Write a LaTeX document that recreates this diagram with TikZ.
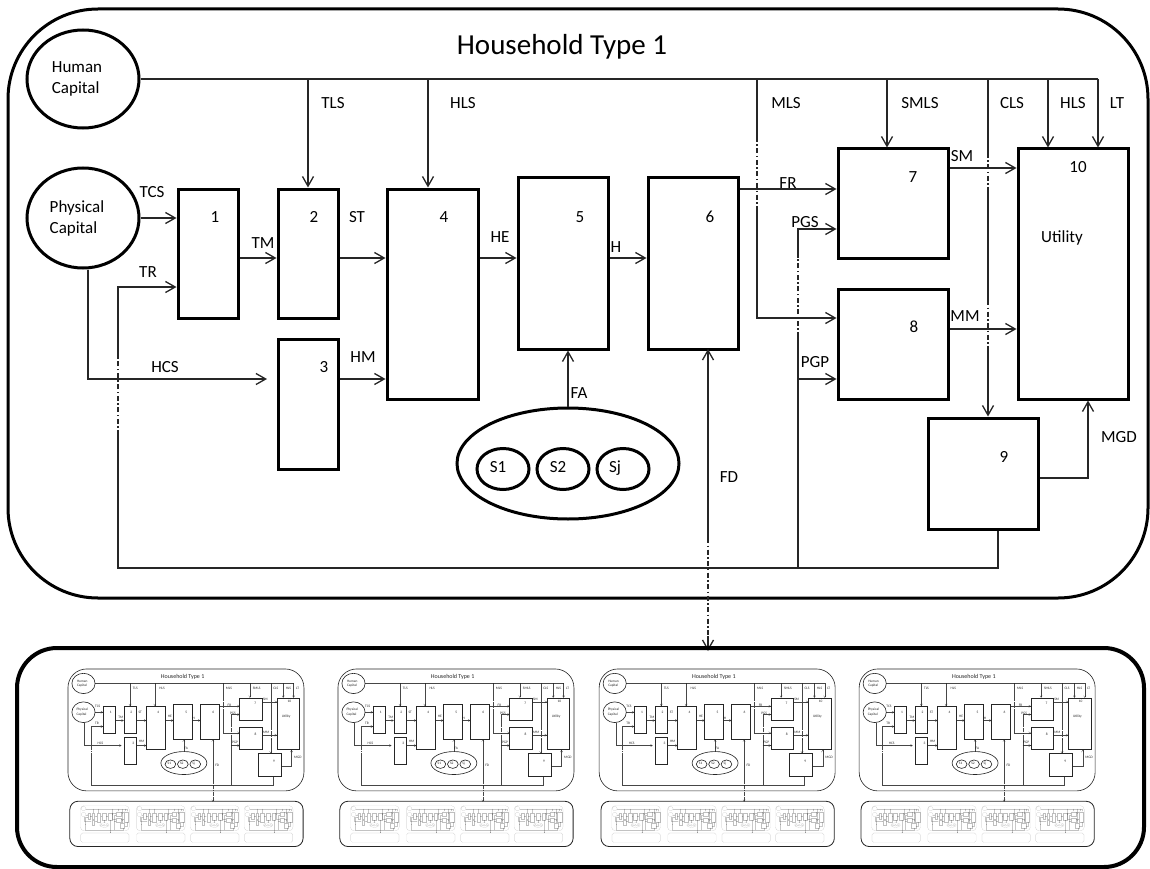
\documentclass[tikz,border=0pt]{standalone}
\usepackage{fontspec}
\setmainfont{Carlito}
\usetikzlibrary{arrows.meta,shapes.geometric}

\newcommand\setlevel[1]{%
  \def\sc{#1}%
  \pgfmathsetlengthmacro\lwB{3pt*#1}%
  \pgfmathsetlengthmacro\lwC{1.3pt*#1}%
  \pgfmathsetlengthmacro\lwP{4pt*#1}%
  \pgfmathsetlengthmacro\rHH{90pt*#1}%
  \pgfmathsetlengthmacro\rBP{40pt*#1}%
  \pgfmathsetlengthmacro\dA{5pt*#1}%
  \pgfmathsetlengthmacro\dB{2.5pt*#1}%
  \pgfmathsetlengthmacro\dC{1.5pt*#1}%
}

\tikzset{
  hbox/.style={draw, rectangle, line width=\lwB, inner sep=0pt, scale=\sc},
  ellnode/.style={draw, ellipse, line width=\lwB, inner sep=0pt, scale=\sc},
  lab/.style={inner sep=0pt, font=\fontsize{17}{20}\selectfont, text height=10.9pt, text depth=0pt, scale=\sc},
  txt/.style={inner sep=0pt, align=left, font=\fontsize{17}{21}\selectfont, scale=\sc},
  ttl/.style={font=\fontsize{29}{34}\selectfont, anchor=base, inner sep=0pt, scale=\sc},
  con/.style={draw=black!85, line width=\lwC},
  arr/.style={con, -{Straight Barb[length=0pt 7.5, width=0pt 8.5]}},
  rarr/.style={con, {Straight Barb[length=0pt 7.5, width=0pt 8.5]}-},
  hid/.style={con, dash pattern=on \dA off \dB on \dC off \dB},
  frameHH/.style={line width=\lwB, rounded corners=\rHH},
  framePN/.style={line width=\lwP, rounded corners=\rBP},
}

% shapes and connectors of one household
\newcommand\hh{%
  \draw[frameHH] (8,9) rectangle (1148,598);
  \node[ellnode, minimum width=112, minimum height=98] (hc) at (83,79) {};
  \node[ellnode, minimum width=112, minimum height=100] (pc) at (83,218) {};
  \node[hbox, minimum width=60, minimum height=129] (b1) at (208,253.5) {};
  \node[hbox, minimum width=60, minimum height=129] (b2) at (308,253.5) {};
  \node[hbox, minimum width=60, minimum height=130] (b3) at (308,404) {};
  \node[hbox, minimum width=91, minimum height=210] (b4) at (432.5,294) {};
  \node[hbox, minimum width=90, minimum height=171] (b5) at (563,263.5) {};
  \node[hbox, minimum width=90, minimum height=171] (b6) at (693,263.5) {};
  \node[hbox, minimum width=110, minimum height=109] (b7) at (893,203.5) {};
  \node[hbox, minimum width=110, minimum height=110] (b8) at (893,344) {};
  \node[hbox, minimum width=110, minimum height=111] (b9) at (983,473.5) {};
  \node[hbox, minimum width=110, minimum height=250] (b10) at (1073,274) {};
  \node[ellnode, minimum width=222, minimum height=111] (big) at (568,463.5) {};
  \node[ellnode, minimum width=52, minimum height=41] (s1) at (503,469) {};
  \node[ellnode, minimum width=52, minimum height=41] (s2) at (563,469) {};
  \node[ellnode, minimum width=52, minimum height=41] (sj) at (623,469) {};
  % bus from human capital
  \coordinate (busE) at (1098,79);
  \draw[con] (hc.east) -- (busE);
  \coordinate (tls) at (308,79);
  \coordinate (hls) at (428,79);
  \coordinate (mls) at (757,79);
  \coordinate (smls) at (887,79);
  \coordinate (cls) at (988,79);
  \coordinate (hlsb) at (1048,79);
  \draw[arr] (tls) -- (tls |- b2.north);
  \draw[arr] (hls) -- (hls |- b4.north);
  \draw[arr] (smls) -- (smls |- b7.north);
  \draw[arr] (hlsb) -- (hlsb |- b10.north);
  \draw[arr] (busE) -- (busE |- b10.north);
  % MLS
  \coordinate (m8) at (757,318);
  \draw[con] (mls) -- (757,137);
  \draw[hid] (757,137) -- (757,210);
  \draw[arr] (757,210) -- (m8) -- (m8 -| b8.west);
  % CLS
  \draw[con] (cls) -- (988,153);
  \draw[hid] (988,153) -- (988,187);
  \draw[con] (988,187) -- (988,300);
  \draw[hid] (988,300) -- (988,348);
  \draw[arr] (988,348) -- (cls |- b9.north);
  % physical capital flows
  \draw[arr] (pc.east) -- (pc.east -| b1.west);
  \coordinate (hcsC) at (88,379);
  \coordinate (hcsE) at (267,379);
  \draw[arr] (hcsC |- pc.south) -- (hcsC) -- (hcsE);
  % main chain
  \coordinate (ry) at (0,258);
  \coordinate (hmy) at (0,379);
  \draw[arr] (b1.east |- ry) -- (b2.west |- ry);
  \draw[arr] (b2.east |- ry) -- (b4.west |- ry);
  \draw[arr] (b3.east |- hmy) -- (b4.west |- hmy);
  \draw[arr] (b4.east |- ry) -- (b5.west |- ry);
  \draw[arr] (b5.east |- ry) -- (b6.west |- ry);
  \draw[arr] (big.north) -- (big.north |- b5.south);
  \coordinate (fry) at (0,189);
  \draw[arr] (b6.east |- fry) -- (b7.west |- fry);
  \coordinate (smy) at (0,168);
  \coordinate (mmy) at (0,329);
  \draw[arr] (b7.east |- smy) -- (b10.west |- smy);
  \draw[arr] (b8.east |- mmy) -- (b10.west |- mmy);
  \coordinate (mgd) at (1088,478);
  \draw[arr] (b9.east |- mgd) -- (mgd) -- (mgd |- b10.south);
  % feedback loop
  \coordinate (fb9) at (998,568);
  \coordinate (fbL) at (118,568);
  \coordinate (trC) at (118,287);
  \draw[con] (fb9 |- b9.south) -- (fb9) -- (fbL) -- (118,435);
  \draw[hid] (118,435) -- (118,358);
  \draw[arr] (118,358) -- (trC) -- (trC -| b1.west);
  \coordinate (pgsC) at (798,229);
  \coordinate (pgpC) at (798,379);
  \draw[con] (798,568) -- (798,337);
  \draw[hid] (798,337) -- (798,258);
  \draw[arr] (798,258) -- (pgsC) -- (pgsC -| b7.west);
  \draw[arr] (pgpC) -- (pgpC -| b8.west);
  % FD
  \coordinate (fdx) at (708,349);
  \coordinate (fdE) at (708,651);
  \draw[rarr] (fdx) -- (708,538);
  \draw[hid] (708,538) -- (708,636);
  \draw[arr] (708,636) -- (fdE);
}

% texts of one household
\newcommand\hhtext{%
  \node[ttl] (title) at (562,55) {Household Type 1};
  \node[txt] (hct) at (77,79) {Human\\Capital};
  \node[txt] (pct) at (77,218) {Physical\\Capital};
  \node[lab] (n1) at (215,217) {1};
  \node[lab] (n2) at (314,217) {2};
  \node[lab] (n3) at (324,367) {3};
  \node[lab] (n4) at (444,217) {4};
  \node[lab] (n5) at (580,217) {5};
  \node[lab] (n6) at (710,217) {6};
  \node[lab] (n7) at (913,177) {7};
  \node[lab] (n8) at (914,327) {8};
  \node[lab] (n9) at (1004,457) {9};
  \node[lab] (n10) at (1078,167) {10};
  \node[lab] (nu) at (1062,237) {Utility};
  \node[lab] (s1t) at (498,467) {S1};
  \node[lab] (s2t) at (558,467) {S2};
  \node[lab] (sjt) at (615,467) {Sj};
  \node[lab] (lTLS) at (333,103) {TLS};
  \node[lab] (lHLS) at (463,103) {HLS};
  \node[lab] (lMLS) at (786,103) {MLS};
  \node[lab] (lSMLS) at (920,103) {SMLS};
  \node[lab] (lCLS) at (1012,103) {CLS};
  \node[lab] (lHLSb) at (1073,103) {HLS};
  \node[lab] (lLT) at (1117,103) {LT};
  \node[lab] (lTCS) at (152,192) {TCS};
  \node[lab] (lTR) at (148,272) {TR};
  \node[lab] (lTM) at (263,243) {TM};
  \node[lab] (lST) at (357,217) {ST};
  \node[lab] (lHM) at (363,357) {HM};
  \node[lab] (lHE) at (500,237) {HE};
  \node[lab] (lH) at (616,247) {H};
  \node[lab] (lFR) at (788,183) {FR};
  \node[lab] (lPGS) at (805,222) {PGS};
  \node[lab] (lPGP) at (815,362) {PGP};
  \node[lab] (lHCS) at (165,367) {HCS};
  \node[lab] (lFA) at (579,393) {FA};
  \node[lab] (lFD) at (729,477) {FD};
  \node[lab] (lSM) at (962,156) {SM};
  \node[lab] (lMM) at (965,316) {MM};
  \node[lab] (lMGD) at (1119,437) {MGD};
}

\newcommand\panel{%
  \draw[framePN] (17,648) rectangle (1144,867);
}

\begin{document}
\begin{tikzpicture}[x=1pt,y=-1pt]
\useasboundingbox (0,0) rectangle (1150,869);
\fill[white] (0,0) rectangle (1150,869);
\setlevel{1}
\hh
\hhtext
\panel
\foreach \ox in {66.3,336.3,597.5,857.5}{%
  \begin{scope}[shift={(\ox,667.1)}, x=0.207pt, y=-0.207pt, opacity=0.85]
    \setlevel{0.207}
    \hh
    \hhtext
    \panel
    \foreach \oy in {66.3,336.3,597.5,857.5}{%
      \begin{scope}[shift={(\oy,667.1)}, x=0.042849pt, y=-0.042849pt, opacity=0.25]
        \setlevel{0.042849}
        \hh
        \panel
      \end{scope}
    }
  \end{scope}
}
\end{tikzpicture}
\end{document}
